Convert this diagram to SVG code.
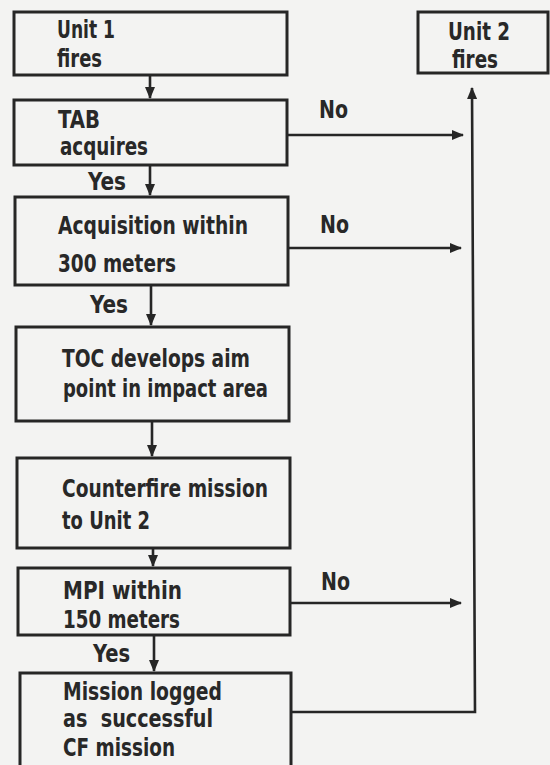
<svg xmlns="http://www.w3.org/2000/svg" width="550" height="765" viewBox="0 0 550 765">
<defs>
<style>
.box{fill:none;stroke:#262626;stroke-width:3}
.ln{fill:none;stroke:#262626;stroke-width:2.6}
.t{font-family:"Liberation Sans Narrow","DejaVu Sans Condensed","Liberation Sans",sans-serif;font-weight:bold;font-size:24px;fill:#282828}
</style>
<marker id="ah" markerWidth="12" markerHeight="10" refX="11" refY="5" orient="auto" markerUnits="userSpaceOnUse">
<path d="M0,0 L12,5 L0,10 Z" fill="#262626"/>
</marker>
</defs>
<rect width="550" height="765" fill="#f3f3f2"/>
<g id="connectors">
<line class="ln" x1="150" y1="75" x2="150" y2="98" marker-end="url(#ah)"/>
<line class="ln" x1="150" y1="165" x2="150" y2="195" marker-end="url(#ah)"/>
<line class="ln" x1="151" y1="285" x2="151" y2="325" marker-end="url(#ah)"/>
<line class="ln" x1="152" y1="421" x2="152" y2="456" marker-end="url(#ah)"/>
<line class="ln" x1="153" y1="548" x2="153" y2="566" marker-end="url(#ah)"/>
<line class="ln" x1="154" y1="635" x2="154" y2="671" marker-end="url(#ah)"/>
<line class="ln" x1="287" y1="135" x2="463" y2="135" marker-end="url(#ah)"/>
<line class="ln" x1="288" y1="248" x2="461" y2="248" marker-end="url(#ah)"/>
<line class="ln" x1="290" y1="603" x2="461" y2="603" marker-end="url(#ah)"/>
<polyline class="ln" points="292,712 475,712 472,88" marker-end="url(#ah)"/>
<text class="t" x="88" y="190" textLength="38" lengthAdjust="spacingAndGlyphs">Yes</text>
<text class="t" x="90" y="313" textLength="38" lengthAdjust="spacingAndGlyphs">Yes</text>
<text class="t" x="93" y="662" textLength="37" lengthAdjust="spacingAndGlyphs">Yes</text>
<text class="t" x="319" y="118" textLength="29" lengthAdjust="spacingAndGlyphs">No</text>
<text class="t" x="320" y="233" textLength="29" lengthAdjust="spacingAndGlyphs">No</text>
<text class="t" x="321" y="590" textLength="29" lengthAdjust="spacingAndGlyphs">No</text>
</g>
<g id="unit1">
<rect class="box" x="14" y="12" width="273" height="63"/>
<text class="t" x="57" y="38" textLength="58" lengthAdjust="spacingAndGlyphs">Unit 1</text>
<text class="t" x="57" y="67" textLength="45" lengthAdjust="spacingAndGlyphs">fires</text>
</g>
<g id="tab">
<rect class="box" x="14" y="100" width="273" height="65"/>
<text class="t" x="58" y="128" textLength="42" lengthAdjust="spacingAndGlyphs">TAB</text>
<text class="t" x="60" y="155" textLength="88" lengthAdjust="spacingAndGlyphs">acquires</text>
</g>
<g id="acq">
<rect class="box" x="15" y="197" width="273" height="88"/>
<text class="t" x="58" y="234" textLength="190" lengthAdjust="spacingAndGlyphs">Acquisition within</text>
<text class="t" x="58" y="272" textLength="118" lengthAdjust="spacingAndGlyphs">300 meters</text>
</g>
<g id="toc">
<rect class="box" x="16" y="327" width="273" height="94"/>
<text class="t" x="62" y="367" textLength="188" lengthAdjust="spacingAndGlyphs">TOC develops aim</text>
<text class="t" x="63" y="397" textLength="205" lengthAdjust="spacingAndGlyphs">point in impact area</text>
</g>
<g id="cf">
<rect class="box" x="17" y="458" width="273" height="90"/>
<text class="t" x="62" y="497" textLength="206" lengthAdjust="spacingAndGlyphs">Counterfire mission</text>
<text class="t" x="62" y="529" textLength="88" lengthAdjust="spacingAndGlyphs">to Unit 2</text>
</g>
<g id="mpi">
<rect class="box" x="18" y="568" width="272" height="67"/>
<text class="t" x="63" y="599" textLength="119" lengthAdjust="spacingAndGlyphs">MPI within</text>
<text class="t" x="63" y="628" textLength="117" lengthAdjust="spacingAndGlyphs">150 meters</text>
</g>
<g id="logged">
<rect class="box" x="20" y="673" width="271" height="100"/>
<text class="t" x="63" y="700" textLength="159" lengthAdjust="spacingAndGlyphs">Mission logged</text>
<text class="t" x="63" y="727" textLength="150" lengthAdjust="spacingAndGlyphs" xml:space="preserve">as  successful</text>
<text class="t" x="63" y="756" textLength="112" lengthAdjust="spacingAndGlyphs">CF mission</text>
</g>
<g id="unit2">
<rect class="box" x="418" y="12" width="130" height="61"/>
<text class="t" x="448" y="40" textLength="62" lengthAdjust="spacingAndGlyphs">Unit 2</text>
<text class="t" x="452" y="68" textLength="46" lengthAdjust="spacingAndGlyphs">fires</text>
</g>
</svg>
